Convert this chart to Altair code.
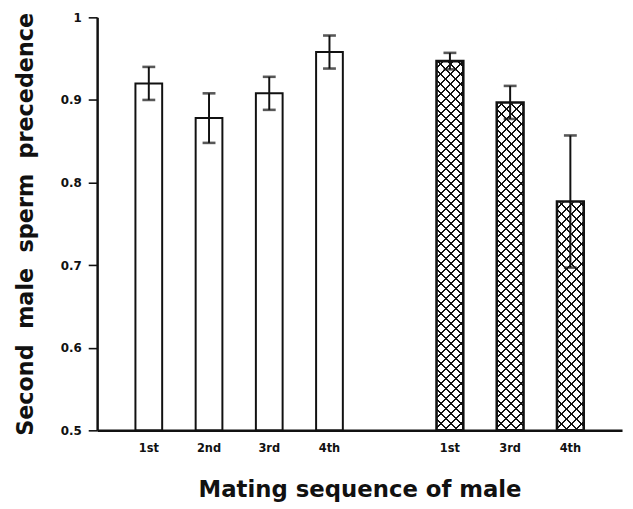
import altair as alt
import pandas as pd

# ---- data ----
categories = ["1st", "2nd", "3rd", "4th", "1st", "3rd", "4th"]
groups = ["open", "open", "open", "open", "hatched", "hatched", "hatched"]
means = [0.920, 0.878, 0.908, 0.958, 0.947, 0.897, 0.777]
errors = [0.020, 0.030, 0.020, 0.020, 0.010, 0.020, 0.080]
y_ticks = [0.5, 0.6, 0.7, 0.8, 0.9, 1.0]

keys = [g + "|" + c for g, c in zip(groups, categories)]
domain = keys[:4] + ["gap"] + keys[4:]

df = pd.DataFrame({
    "key": keys,
    "cat": categories,
    "group": groups,
    "mean": means,
    "lo": [m - e for m, e in zip(means, errors)],
    "hi": [m + e for m, e in zip(means, errors)],
})

# ---- layout / style ----
W, H = 530, 417
P_INNER, P_OUTER = 0.556, 0.636
FONT = "DejaVu Sans"
INK = "#111111"

step = W / (len(domain) - P_INNER + 2 * P_OUTER)
bw = step * (1 - P_INNER)

def hatch_gradient(direction, bg):
    w, h = bw, H
    s = (w + h) / (w * w + h * h)
    period = 10.0
    n = max(1, round((w + h) / period))
    frac = 0.2
    stops = []
    for k in range(n):
        a = k / n
        b = (k + frac) / n
        c = (k + 1) / n
        stops += [
            {"offset": round(a, 6), "color": INK},
            {"offset": round(b, 6), "color": INK},
            {"offset": round(b, 6), "color": bg},
            {"offset": round(c, 6), "color": bg},
        ]
    if direction == 1:
        x1, y1, x2, y2 = 0, 0, w * s, h * s
    else:
        x1, y1, x2, y2 = 0, 1, w * s, 1 - h * s
    return {"gradient": "linear", "x1": x1, "y1": y1, "x2": x2, "y2": y2, "stops": stops}

x_enc = alt.X(
    "key:N",
    scale=alt.Scale(domain=domain, paddingInner=P_INNER, paddingOuter=P_OUTER),
    axis=alt.Axis(
        title="Mating sequence of male",
        labelExpr="indexof(datum.value, '|') >= 0 ? split(datum.value, '|')[1] : ''",
        labelAngle=0,
        ticks=False,
        labelPadding=12,
        labelFont=FONT,
        labelFontSize=11.5,
        labelFontWeight="bold",
        labelColor=INK,
        domainColor=INK,
        domainWidth=2.5,
        titleFont=FONT,
        titleFontSize=23,
        titleFontWeight="bold",
        titleColor=INK,
        titleBaseline="alphabetic",
        titleY=67,
    ),
)

y_scale = alt.Scale(domain=[0.5, 1.0], nice=False, zero=False)
y_enc = alt.Y(
    "mean:Q",
    scale=y_scale,
    axis=alt.Axis(
        title="Second  male  sperm  precedence".replace("  ", "\u00a0\u00a0"),
        values=y_ticks,
        format=".1~f",
        grid=False,
        tickSize=9,
        tickWidth=1.6,
        tickColor=INK,
        domainColor=INK,
        domainWidth=2.5,
        labelFont=FONT,
        labelFontSize=12,
        labelFontWeight="bold",
        labelColor=INK,
        labelPadding=7,
        titleFont=FONT,
        titleFontSize=22.5,
        titleFontWeight="bold",
        titleColor=INK,
        titleBaseline="alphabetic",
        titleX=-65,
    ),
)

base = alt.Chart(df)
hatched = base.transform_filter(alt.datum.group == "hatched")
opened = base.transform_filter(alt.datum.group == "open")

hatch_a = hatched.mark_bar(fill=hatch_gradient(1, "#ffffff"), strokeWidth=0).encode(
    x=x_enc, y=alt.datum(1.0, scale=y_scale), y2=alt.datum(0.5)
)
hatch_b = hatched.mark_bar(fill=hatch_gradient(2, "transparent"), strokeWidth=0).encode(
    x=x_enc, y=alt.datum(1.0, scale=y_scale), y2=alt.datum(0.5)
)
cover = hatched.mark_bar(fill="#ffffff", stroke="#ffffff", strokeWidth=1.5).encode(
    x=x_enc, y=y_enc, y2=alt.datum(1.0)
)
open_bars = opened.mark_bar(fill="#ffffff", stroke=INK, strokeWidth=2).encode(
    x=x_enc, y=y_enc, y2=alt.datum(0.5)
)
hatch_outline = hatched.mark_bar(fill="transparent", stroke=INK, strokeWidth=2.6).encode(
    x=x_enc, y=y_enc, y2=alt.datum(0.5)
)
err_line = base.mark_rule(color=INK, strokeWidth=2).encode(
    x=x_enc, y=alt.Y("lo:Q", scale=y_scale), y2="hi:Q"
)
cap_hi = base.mark_tick(color=INK, size=13, thickness=2.6, orient="horizontal").encode(
    x=x_enc, y=alt.Y("hi:Q", scale=y_scale)
)
cap_lo = base.mark_tick(color=INK, size=13, thickness=2.6, orient="horizontal").encode(
    x=x_enc, y=alt.Y("lo:Q", scale=y_scale)
)

chart = (
    alt.layer(hatch_a, hatch_b, cover, open_bars, hatch_outline, err_line, cap_hi, cap_lo)
    .properties(
        width=W,
        height=H,
        autosize=alt.AutoSizeParams(type="none"),
        padding={"left": 90, "top": 7, "right": 3, "bottom": 77},
        background="#ffffff",
    )
    .configure_view(stroke=None)
)

chart.save("out.html", embed_options={"renderer": "svg", "actions": False})
